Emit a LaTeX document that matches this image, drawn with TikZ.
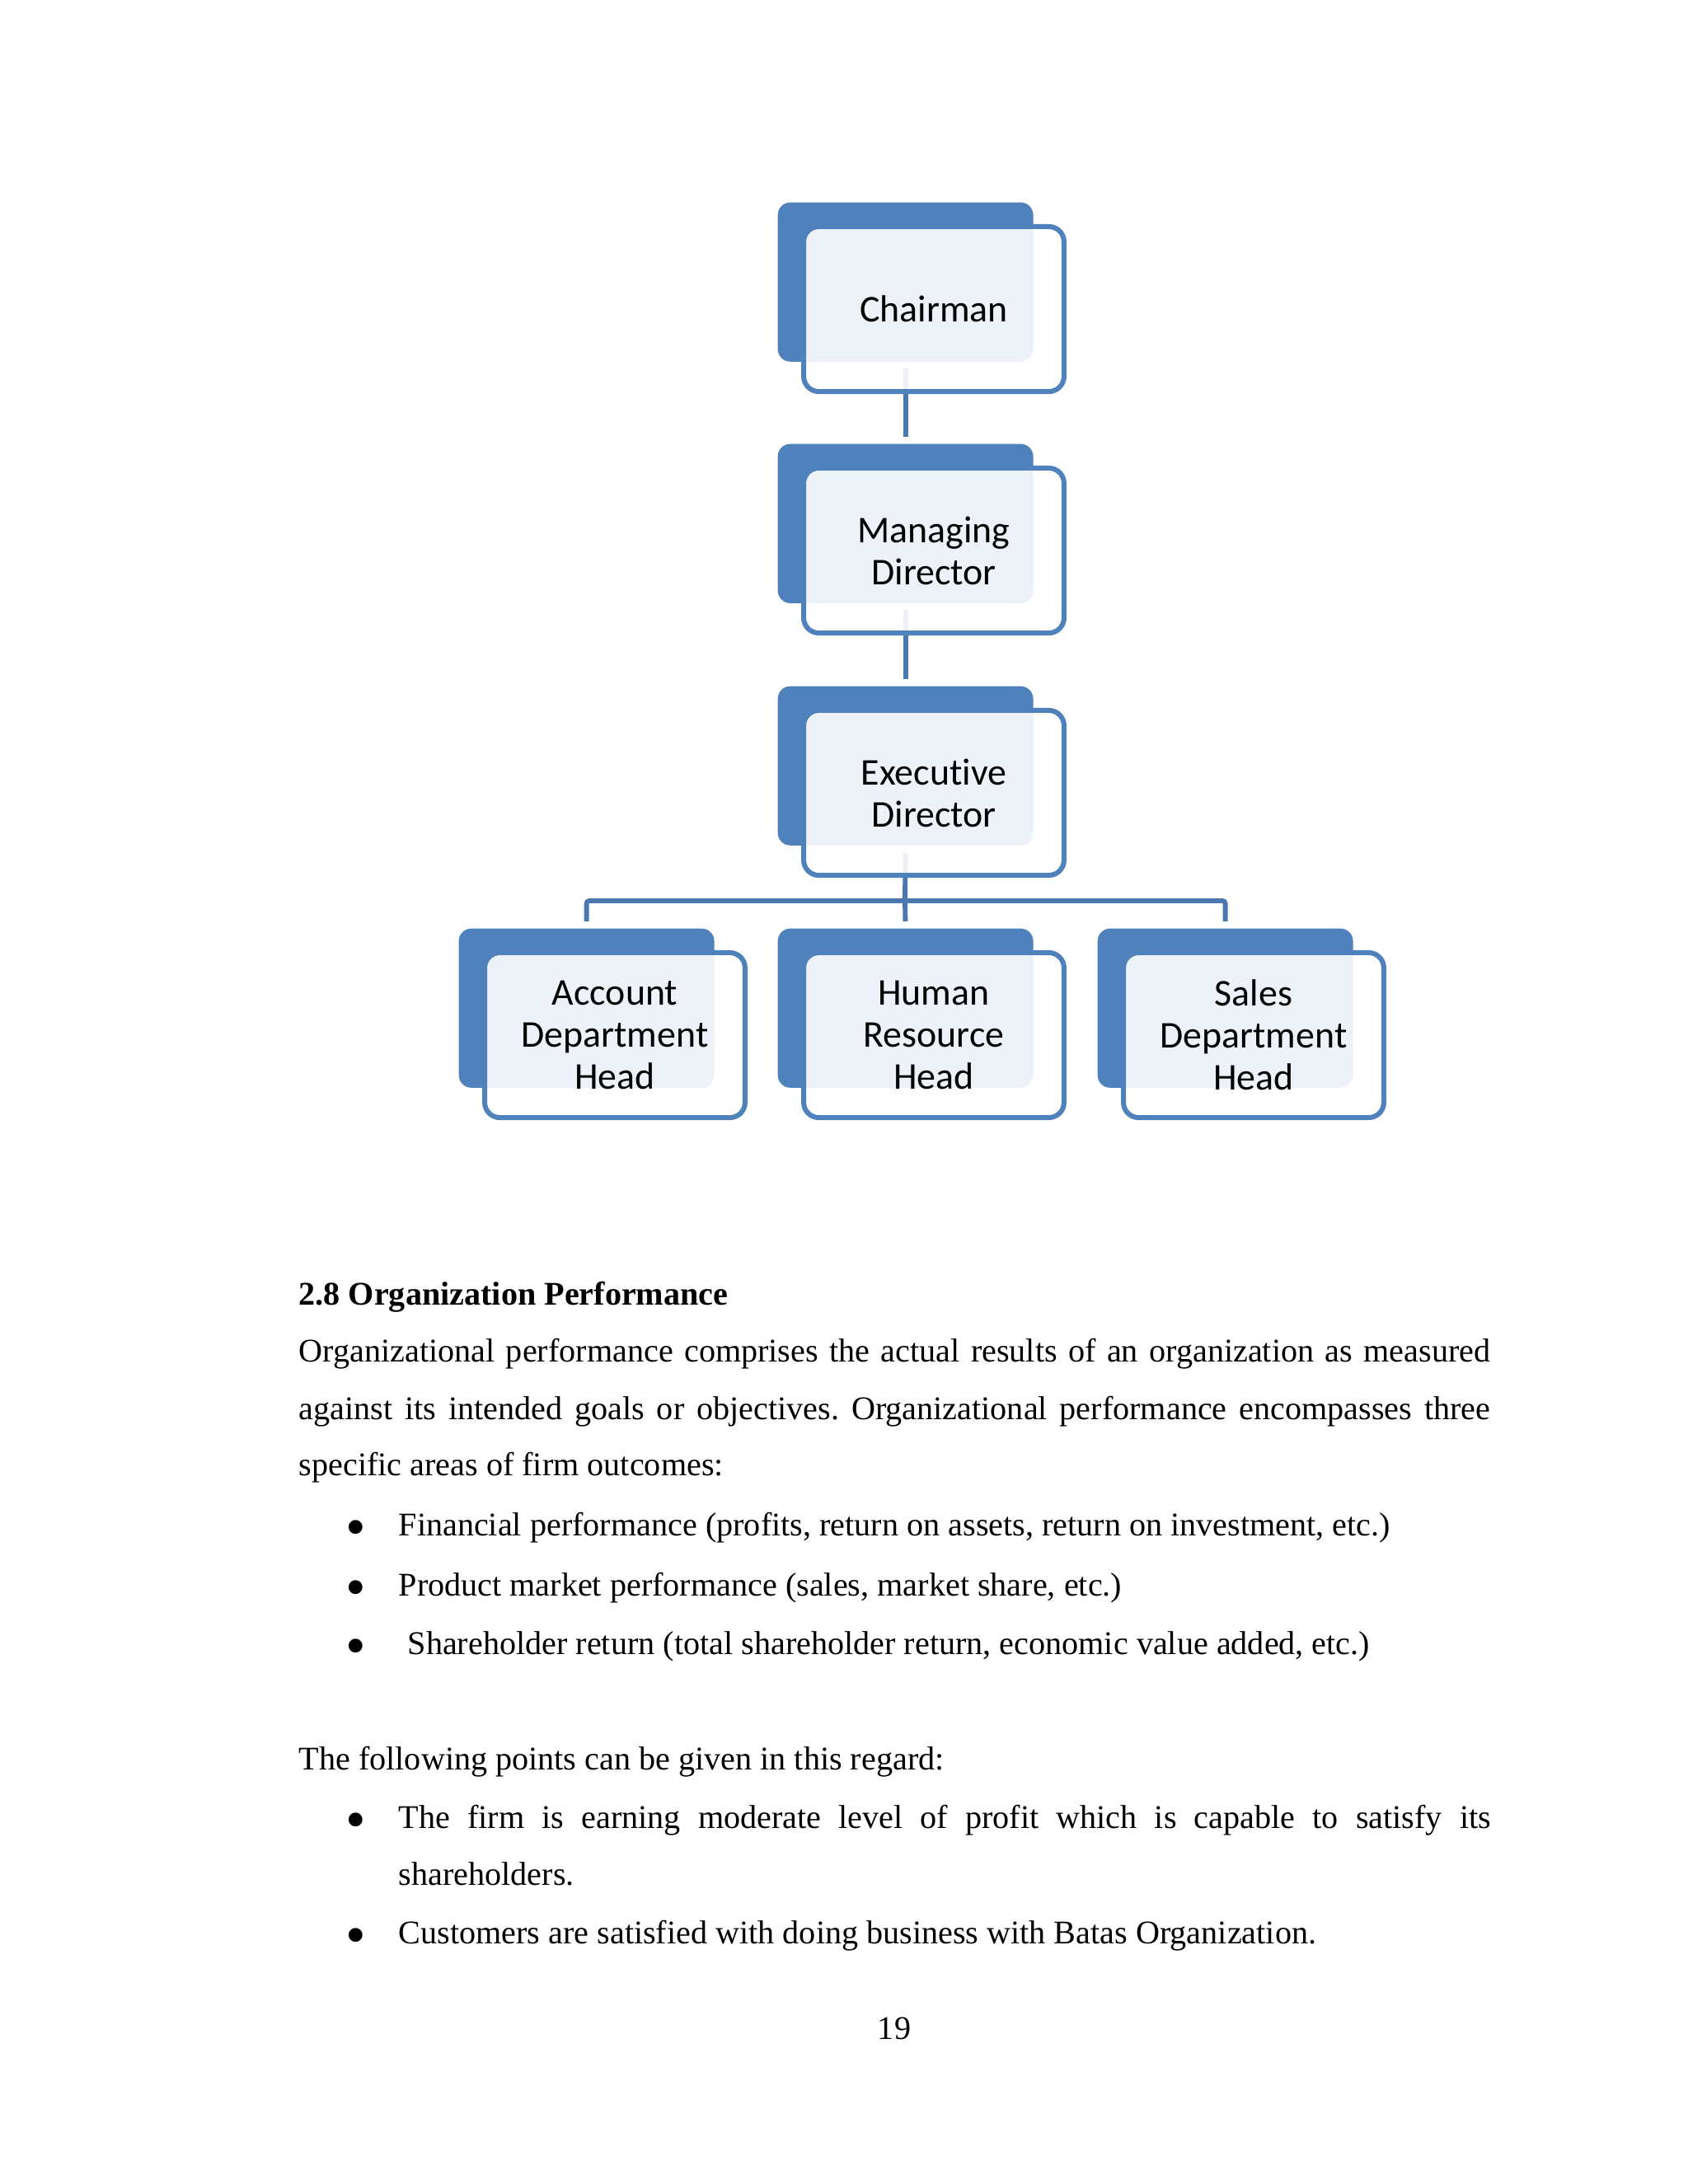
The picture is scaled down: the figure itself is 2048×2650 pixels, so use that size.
\documentclass[tikz,border=0pt]{standalone}
\usepackage{fontspec}
\setmainfont{Liberation Serif}
\newfontfamily\carlito[Ligatures=NoCommon]{Carlito}
\frenchspacing
\definecolor{boxblue}{HTML}{4F81BD}
\definecolor{connblue}{HTML}{4A77AE}
\tikzset{
  backbox/.style={rectangle, rounded corners=4.5pt, fill=boxblue, minimum width=92.6pt, minimum height=57.7pt, inner sep=0pt, anchor=north west},
  frontbox/.style={rectangle, rounded corners=5.5pt, draw=boxblue, line width=1.8pt, fill=white, fill opacity=0.9, text opacity=1, minimum width=94.4pt, minimum height=59.8pt, inner sep=0pt, align=center, font=\carlito\fontsize{13.7}{15.2}\selectfont},
  conn/.style={draw=connblue, line width=1.75pt, shorten <=2.4pt, shorten >=2.4pt},
  body/.style={anchor=base west, inner sep=0pt, font=\fontsize{12}{14}\selectfont},
  bul/.style={anchor=base, inner sep=0pt, font=\fontsize{12}{14}\selectfont},
  bigbul/.style={anchor=center, inner sep=0pt, font=\fontsize{21}{21}\selectfont},
}
\begin{document}
\begin{tikzpicture}[x=0.29883pt, y=-0.29883pt]
\useasboundingbox (0,0) rectangle (2048,2650);

% back boxes
\node[backbox] (chb) at (943,245) {};
\node[backbox] (mdb) at (943,538) {};
\node[backbox] (edb) at (943,832) {};
\node[backbox] (adb) at (556,1126) {};
\node[backbox] (hrb) at (943,1126) {};
\node[backbox] (sdb) at (1331,1126) {};

% connectors
\draw[conn] (chb.south) -- (mdb.north);
\draw[conn] (mdb.south) -- (edb.north);
\coordinate (bus) at (1098,1093);
\draw[conn, shorten >=0pt] (edb.south) -- (bus);
\draw[conn, shorten <=0pt, rounded corners=1pt] (bus) -| (adb.north);
\draw[conn, shorten <=0pt, rounded corners=1pt] (bus) -| (sdb.north);
\draw[conn, shorten <=0pt] (bus) -- (hrb.north);

% front boxes
\node[frontbox] (ch) at (1133,375) {Chairman};
\node[frontbox] (md) at (1133,668) {Managing\\Director};
\node[frontbox] (ed) at (1133,962) {Executive\\Director};
\node[frontbox] (ad) at (746,1256) {Account\\Department\\Head};
\node[frontbox] (hr) at (1133,1256) {Human\\Resource\\Head};
\node[frontbox] (sd) at (1521,1256) {Sales\\Department\\Head};

% body text
\node[body, font=\bfseries\fontsize{12}{14}\selectfont] (h1) at (362,1583) {2.8 Organization Performance};
\node[body] (p1) at (362,1652) {\hbox to 432pt{Organizational performance comprises the actual results of an organization as measured}};
\node[body] (p2) at (362,1722) {\hbox to 432pt{against its intended goals or objectives. Organizational performance encompasses three}};
\node[body] (p3) at (362,1790) {specific areas of firm outcomes:};

\node[bigbul] (b1) at (432,1861) {\textbullet};
\node[body] (t1) at (483,1863) {Financial performance (profits, return on assets, return on investment, etc.)};
\node[bigbul] (b2) at (432,1934) {\textbullet};
\node[body] (t2) at (483,1936) {Product market performance (sales, market share, etc.)};
\node[bigbul] (b3) at (432,2005) {\textbullet};
\node[body] (t3) at (494,2007) {Shareholder return (total shareholder return, economic value added, etc.)};

\node[body] (p4) at (362,2147) {The following points can be given in this regard:};
\node[bigbul] (b4) at (432,2216) {\textbullet};
\node[body] (t4) at (483,2218) {\hbox to 396pt{The firm is earning moderate level of profit which is capable to satisfy its}};
\node[body] (t4b) at (483,2287) {shareholders.};
\node[bigbul] (b5) at (432,2356) {\textbullet};
\node[body] (t5) at (483,2358) {Customers are satisfied with doing business with Batas Organization.};

\node[bul] (pg) at (1085,2474) {19};
\end{tikzpicture}
\end{document}
